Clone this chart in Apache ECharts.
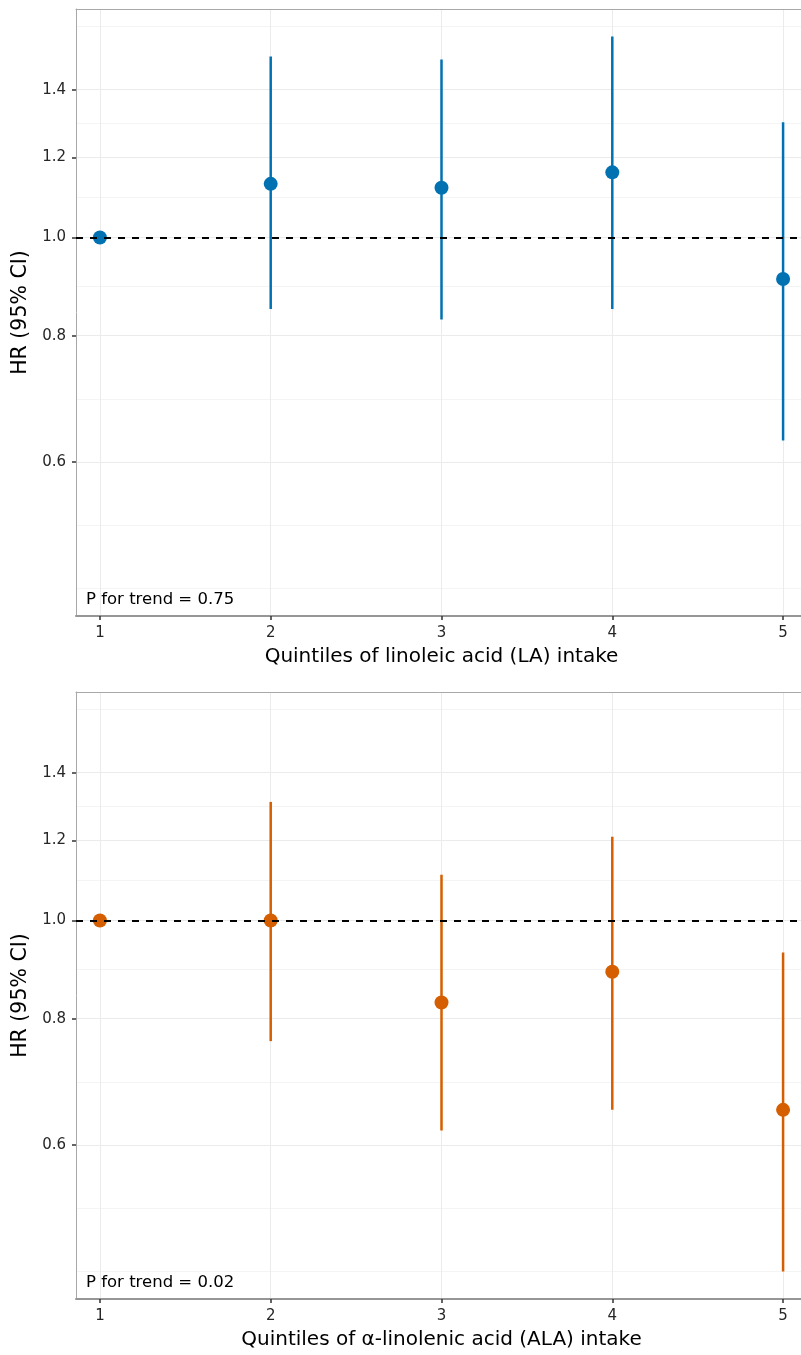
<!DOCTYPE html>
<html><head><meta charset="utf-8">
<script src="https://cdn.jsdelivr.net/npm/echarts@6/dist/echarts.min.js"></script>
<style>html,body{margin:0;padding:0;background:#fff}#c{width:801px;height:1355px}</style>
</head><body><div id="c"></div>
<script>
// ---- data ----
const quintiles = [1, 2, 3, 4, 5];
const laHR    = [1.00, 1.13, 1.12, 1.16, 0.91];
const laLower = [1.00, 0.85, 0.83, 0.85, 0.63];
const laUpper = [1.00, 1.51, 1.50, 1.58, 1.30];
const alaHR    = [1.00, 1.00, 0.83, 0.89, 0.65];
const alaLower = [1.00, 0.76, 0.62, 0.65, 0.45];
const alaUpper = [1.00, 1.31, 1.11, 1.21, 0.93];
const yTicks = [0.6, 0.8, 1.0, 1.2, 1.4];
const xTicks = [1, 2, 3, 4, 5];
const refHR = 1.0;
const pTrendLabels = ['P for trend = 0.75', 'P for trend = 0.02'];
const xTitles = ['Quintiles of linoleic acid (LA) intake', 'Quintiles of \u03b1-linolenic acid (ALA) intake'];
const yTitle = 'HR (95% CI)';

// ---- styling / layout ----
const FONT = 'DejaVu Sans';
const colors = ['#0072B2', '#D55E00'];
const panels = [
  {hr: laHR, lo: laLower, hi: laUpper},
  {hr: alaHR, lo: alaLower, hi: alaUpper}
];
const gridTops = [9, 692];
const gridH = 607;
const BORDER = '#a8a8a8';

// shared log scale limits (5% expansion in log space)
const allLo = laLower.concat(alaLower), allHi = laUpper.concat(alaUpper);
const lnLo = Math.log(Math.min.apply(null, allLo));
const lnHi = Math.log(Math.max.apply(null, allHi));
const pad = 0.05 * (lnHi - lnLo);
const yMin = lnLo - pad, yMax = lnHi + pad;

const majorLn = yTicks.map(Math.log);
// ggplot-style regular minor breaks in transformed space
function minorBreaks(b, lim) {
  b = b.slice();
  const bd = b[1] - b[0];
  if (lim[0] < b[0]) b.unshift(b[0] - bd);
  if (lim[1] > b[b.length - 1]) b.push(b[b.length - 1] + bd);
  const out = [];
  for (let i = 0; i < b.length - 1; i++) { out.push(b[i], (b[i] + b[i + 1]) / 2); }
  out.push(b[b.length - 1]);
  return out.filter(v => v > lim[0] && v < lim[1] && !majorLn.some(m => Math.abs(m - v) < 1e-9));
}
const minorLn = minorBreaks(majorLn, [yMin, yMax]);

const grids = [], xAxes = [], yAxes = [], series = [], graphics = [];
panels.forEach((p, k) => {
  grids.push({left: 76, right: -6, top: gridTops[k], height: gridH, show: false, outerBoundsMode: 'none'});
  xAxes.push({type: 'value', gridIndex: k, min: 0.86, max: 5.14, position: 'bottom',
    name: xTitles[k], nameLocation: 'middle', nameGap: 31,
    nameTextStyle: {fontFamily: FONT, fontSize: 20, color: '#000'},
    axisLine: {show: true, onZero: false, lineStyle: {color: '#969696', width: 2}},
    axisTick: {show: true, length: 4, customValues: xTicks, lineStyle: {color: '#333', width: 1.5}},
    axisLabel: {customValues: xTicks, margin: 10, fontFamily: FONT, fontSize: 15, color: '#262626'},
    splitLine: {show: true, lineStyle: {color: '#ebebeb', width: 1}}
  });
  // top border of the panel
  xAxes.push({type: 'value', gridIndex: k, min: 0.86, max: 5.14, position: 'top',
    axisLine: {show: true, onZero: false, lineStyle: {color: BORDER, width: 1}},
    axisTick: {show: false}, axisLabel: {show: false}, splitLine: {show: false}
  });
  // major
  yAxes.push({type: 'value', gridIndex: k, min: yMin, max: yMax, position: 'left',
    name: yTitle, nameLocation: 'middle', nameGap: 44, nameRotate: 90,
    nameTextStyle: {fontFamily: FONT, fontSize: 20.5, color: '#000'},
    axisLine: {show: true, onZero: false, lineStyle: {color: BORDER, width: 1}},
    axisTick: {show: true, length: 4, customValues: majorLn, lineStyle: {color: '#333', width: 1.5}},
    axisLabel: {customValues: majorLn, margin: 10, fontFamily: FONT, fontSize: 15, color: '#262626',
      formatter: v => Math.exp(v).toFixed(1)},
    splitLine: {show: true, lineStyle: {color: '#ebebeb', width: 1.2}}
  });
  // minor grid lines
  yAxes.push({type: 'value', gridIndex: k, min: yMin, max: yMax, position: 'left',
    axisLine: {show: false, onZero: false}, axisTick: {show: false, customValues: minorLn},
    axisLabel: {show: false, customValues: minorLn},
    splitLine: {show: true, lineStyle: {color: '#f4f4f4', width: 1}}
  });
  const col = colors[k];
  series.push({
    type: 'custom', xAxisIndex: 2 * k, yAxisIndex: 2 * k, z: 2,
    data: quintiles.map((q, i) => [q, Math.log(p.lo[i]), Math.log(p.hi[i])]),
    encode: {x: 0, y: [1, 2]},
    renderItem: (params, api) => {
      const a = api.coord([api.value(0), api.value(1)]);
      const b = api.coord([api.value(0), api.value(2)]);
      return {type: 'line', shape: {x1: a[0], y1: a[1], x2: b[0], y2: b[1]},
        style: {stroke: col, lineWidth: 2.5}};
    }
  });
  series.push({
    type: 'scatter', xAxisIndex: 2 * k, yAxisIndex: 2 * k, z: 3, data: [],
    markLine: {silent: true, symbol: 'none', label: {show: false},
      lineStyle: {color: '#000', type: [7, 7], width: 2},
      data: [{yAxis: Math.log(refHR)}]}
  });
  series.push({
    type: 'scatter', xAxisIndex: 2 * k, yAxisIndex: 2 * k, z: 4,
    symbolSize: 14, itemStyle: {color: col, opacity: 1},
    data: quintiles.map((q, i) => [q, Math.log(p.hr[i])])
  });
  graphics.push({type: 'text', left: 86, top: gridTops[k] + 582,
    style: {text: pTrendLabels[k], fontFamily: FONT, fontSize: 16.5, fill: '#000'}});
});

const chart = echarts.init(document.getElementById('c'), null, {renderer: 'canvas'});
chart.setOption({
  animation: false,
  backgroundColor: '#fff',
  grid: grids, xAxis: xAxes, yAxis: yAxes, series: series, graphic: graphics
});
</script></body></html>
